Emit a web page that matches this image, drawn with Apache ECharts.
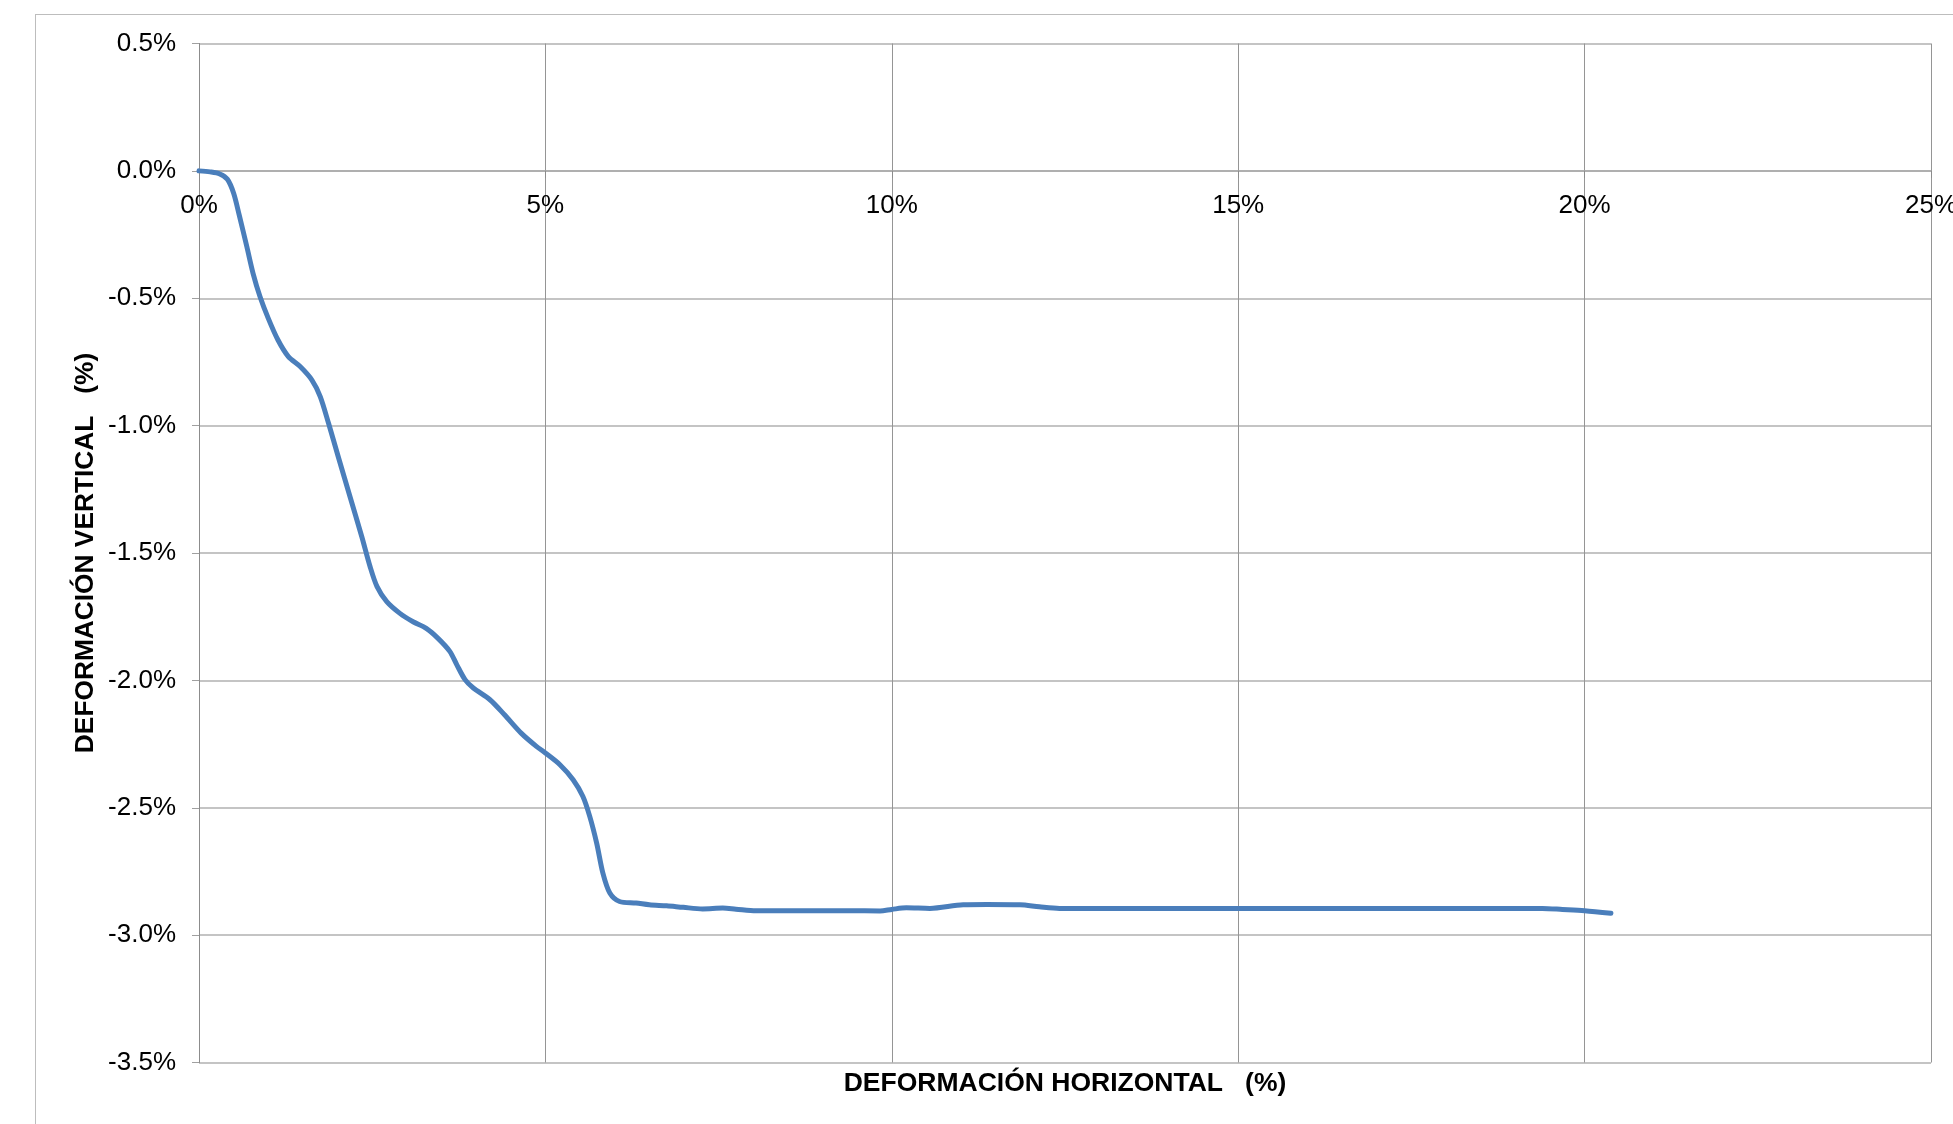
<!DOCTYPE html>
<html>
<head>
<meta charset="utf-8">
<script src="https://cdn.jsdelivr.net/npm/echarts@6/dist/echarts.min.js"></script>
<style>
  html, body { margin: 0; padding: 0; background: #ffffff; overflow: hidden; }
  #frame { position: absolute; left: 35px; top: 14px; width: 2000px; height: 1200px;
           border-left: 1.5px solid #bdbdbd; border-top: 1.5px solid #bdbdbd; }
  #chart { position: absolute; left: 0; top: 0; width: 1953px; height: 1124px; }
</style>
</head>
<body>
<div id="frame"></div>
<div id="chart"></div>
<script>
// Horizontal deformation (%)
const xValues = [0, 0.16, 0.30, 0.41, 0.50, 0.58, 0.69, 0.78, 0.88, 1.00,
  1.14, 1.29, 1.46, 1.63, 1.75, 1.87, 2.01, 2.18, 2.35, 2.47,
  2.57, 2.71, 2.90, 3.09, 3.28, 3.45, 3.62, 3.72, 3.84, 3.96,
  4.20, 4.41, 4.65, 4.87, 5.00, 5.21, 5.40, 5.54, 5.64, 5.74,
  5.83, 5.93, 6.07, 6.31, 6.50, 6.75, 6.99, 7.27, 7.56, 7.75,
  8.04, 8.43, 8.91, 9.39, 9.83, 10.00, 10.21, 10.55, 11.03, 11.37,
  11.85, 12.13, 12.42, 13.19, 15.00, 17.00, 19.39, 19.68, 20.00, 20.38];
// Vertical deformation (%)
const yValues = [0, -0.004, -0.012, -0.033, -0.088, -0.173, -0.297, -0.402, -0.493, -0.579,
  -0.664, -0.729, -0.768, -0.821, -0.886, -0.991, -1.122, -1.279, -1.436, -1.554,
  -1.632, -1.691, -1.737, -1.770, -1.796, -1.835, -1.886, -1.938, -1.997, -2.030,
  -2.076, -2.135, -2.207, -2.259, -2.285, -2.331, -2.390, -2.455, -2.534, -2.639,
  -2.757, -2.835, -2.868, -2.874, -2.881, -2.885, -2.891, -2.897, -2.894, -2.898,
  -2.904, -2.904, -2.904, -2.904, -2.905, -2.899, -2.893, -2.895, -2.881, -2.880,
  -2.881, -2.889, -2.895, -2.895, -2.895, -2.895, -2.895, -2.899, -2.904, -2.914];

const xTicks = [0, 5, 10, 15, 20, 25];
const yTicks = [0.5, 0.0, -0.5, -1.0, -1.5, -2.0, -2.5, -3.0, -3.5];

const xAxisTitle = 'DEFORMACIÓN HORIZONTAL   (%)';
const yAxisTitle = 'DEFORMACIÓN VERTICAL   (%)';

const FONT = '"Liberation Sans", Arial, sans-serif';

const points = xValues.map((x, i) => [x, yValues[i]]);
const yMin = yTicks[yTicks.length - 1];

const chart = echarts.init(document.getElementById('chart'), null, { renderer: 'canvas' });

function buildOption(xOffset, xNameGap) {
  return {
    animation: false,
    backgroundColor: 'transparent',
    grid: { left: 199, top: 43.5, right: 22, bottom: 61.5, containLabel: false, outerBoundsMode: 'none' },
    xAxis: {
      type: 'value',
      position: 'bottom',
      offset: xOffset,
      min: xTicks[0],
      max: xTicks[xTicks.length - 1],
      interval: xTicks[1] - xTicks[0],
      axisLine: { show: true, onZero: false, lineStyle: { color: '#a8a8a8', width: 1.5 } },
      axisTick: { show: true, length: 7, lineStyle: { color: '#8c8c8c' } },
      axisLabel: {
        show: true, margin: 22, color: '#000', fontSize: 26, fontFamily: FONT,
        showMinLabel: true, showMaxLabel: true, hideOverlap: false,
        formatter: v => v + '%'
      },
      splitLine: { show: true, lineStyle: { color: '#959595', width: 1 } },
      name: xAxisTitle,
      nameLocation: 'middle',
      nameGap: xNameGap,
      nameMoveOverlap: false,
      nameTextStyle: { color: '#000', fontSize: 26.5, fontWeight: 'bold', fontFamily: FONT }
    },
    yAxis: {
      type: 'value',
      min: yMin,
      max: yTicks[0],
      interval: yTicks[0] - yTicks[1],
      axisLine: { show: true, onZero: false, lineStyle: { color: '#8c8c8c', width: 1 } },
      axisTick: { show: true, length: 7, lineStyle: { color: '#a0a0a0' } },
      axisLabel: {
        show: true, margin: 23, color: '#000', fontSize: 26, fontFamily: FONT,
        showMinLabel: true, showMaxLabel: true, hideOverlap: false,
        formatter: v => v.toFixed(1) + '%'
      },
      splitLine: { show: true, lineStyle: { color: '#c4c4c4', width: 2 } },
      name: yAxisTitle,
      nameLocation: 'middle',
      nameGap: 100,
      nameMoveOverlap: false,
      nameTextStyle: { color: '#000', fontSize: 26.3, fontWeight: 'bold', fontFamily: FONT }
    },
    series: [{
      type: 'line',
      data: points,
      smooth: 0.3,
      showSymbol: false,
      symbol: 'none',
      lineStyle: { color: '#4a7ebb', width: 5, cap: 'round', join: 'round' },
      clip: false
    }]
  };
}

// first pass: axis at the bottom, then move it to cross the y axis at 0
chart.setOption(buildOption(0, 20));
const yZeroPx = chart.convertToPixel({ yAxisIndex: 0 }, 0);
const yBottomPx = chart.convertToPixel({ yAxisIndex: 0 }, yMin);
const shift = yBottomPx - yZeroPx;
chart.setOption(buildOption(-shift, shift + 8));
</script>
</body>
</html>
